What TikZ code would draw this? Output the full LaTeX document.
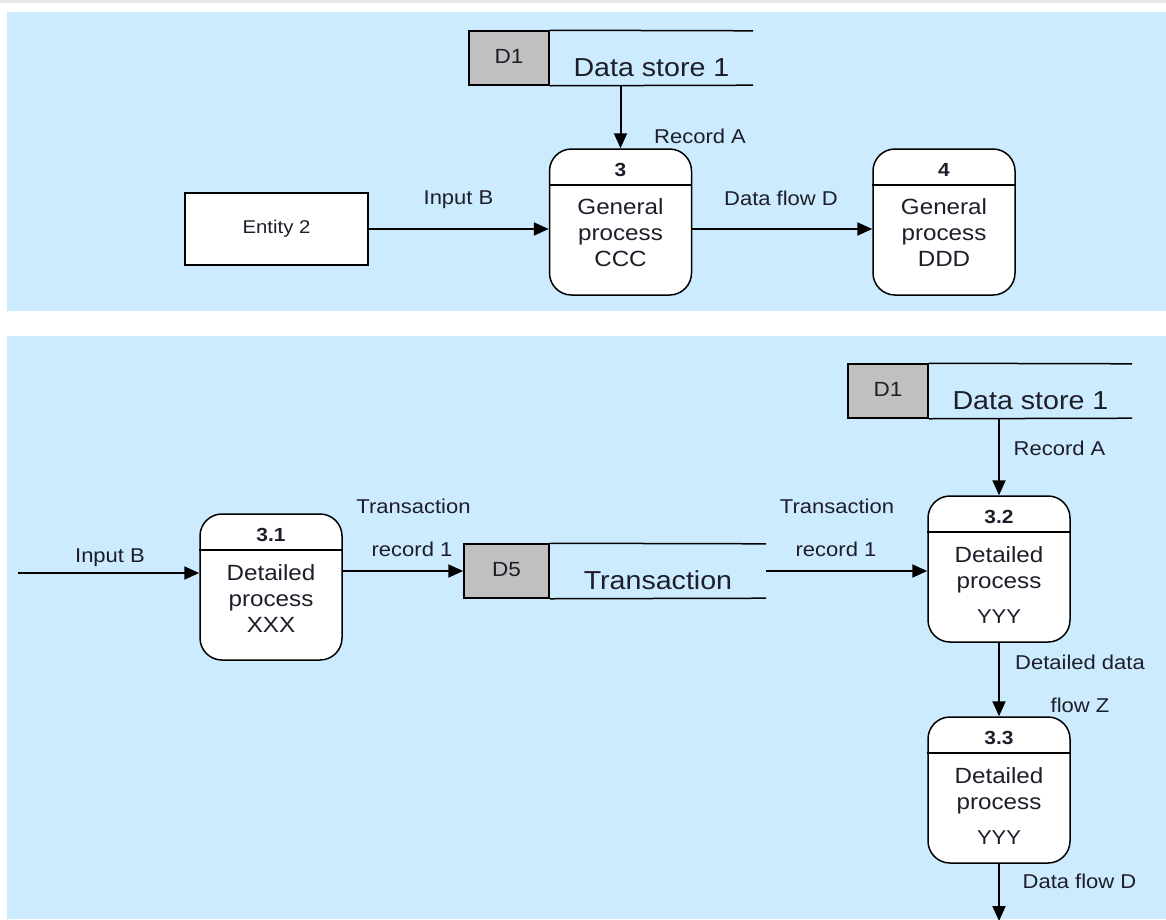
\documentclass[tikz,border=0pt]{standalone}
\usepackage{fontspec}
\setmainfont{Liberation Sans}[FakeStretch=1.1]
\usetikzlibrary{arrows.meta,positioning}
\definecolor{panelblue}{HTML}{CCEBFF}
\definecolor{storegray}{HTML}{C0C0C0}
\definecolor{stripgray}{HTML}{E8E8E8}
\definecolor{ink}{HTML}{1E1E2A}

\tikzset{
    proc/.style={draw, line width=1.5pt, fill=white, rounded corners=22pt,
        minimum width=142pt, minimum height=146pt, inner sep=0pt},
    procnum/.style={anchor=base, inner sep=0pt, text=ink, font=\fontsize{19}{19}\selectfont\bfseries},
    proctext/.style={anchor=base, align=center, inner sep=0pt, text=ink, font=\fontsize{22}{26}\selectfont},
    divider/.style={line width=1.5pt},
    storeid/.style={draw, line width=1.5pt, fill=storegray, minimum height=54pt, inner sep=0pt,
        text height=10pt, text depth=0pt, text=ink, font=\fontsize{20.5}{20.5}\selectfont},
    storebody/.style={minimum height=54pt, inner sep=0pt, text height=36pt, text depth=0pt,
        text=ink, font=\fontsize{26}{26}\selectfont},
    storeline/.style={line width=1.5pt},
    entity/.style={draw, line width=1.5pt, fill=white, minimum width=183pt, minimum height=72pt,
        text=ink, font=\fontsize{18.5}{18.5}\selectfont},
    lbl/.style={anchor=base, inner sep=0pt, text=ink, font=\fontsize{20}{20}\selectfont},
    flow/.style={-{Triangle[length=15pt,width=13pt]}, line width=2pt},
}

\begin{document}
\begin{tikzpicture}[x=1pt, y=-1pt]
    \useasboundingbox (0,0) rectangle (1166,919);
    % the two panels
    \fill[stripgray] (0,0) rectangle (1166,3);
    \fill[panelblue] (7,12) rectangle (1166,311);
    \fill[panelblue] (7,336) rectangle (1166,919);

    % ---- top panel ----
    % data store D1
    \node[storeid, minimum width=80pt] (d1top) at (509,58) {D1};
    \node[storebody, minimum width=203pt, right=0pt of d1top] (ds1top) {Data store 1};
    \draw[storeline] (d1top.north east) -- (ds1top.north east);
    \draw[storeline] (d1top.south east) -- (ds1top.south east);

    % the entity
    \node[entity] (ent2) at (276.5,229) {Entity 2};

    % process 3
    \node[proc] (p3) at (620.5,222) {};
    \node[procnum] (p3num) at ([yshift=-28pt]p3.north) {3};
    \draw[divider] ([yshift=-36.5pt]p3.north west) -- ([yshift=-36.5pt]p3.north east);
    \node[proctext] (p3txt) at ([yshift=-118pt]p3.north) {General\\process\\CCC};

    % process 4
    \node[proc] (p4) at (944,222) {};
    \node[procnum] (p4num) at ([yshift=-28pt]p4.north) {4};
    \draw[divider] ([yshift=-36.5pt]p4.north west) -- ([yshift=-36.5pt]p4.north east);
    \node[proctext] (p4txt) at ([yshift=-118pt]p4.north) {General\\process\\DDD};

    % the flows
    \draw[flow] (ds1top.south -| p3.north) -- (p3.north);
    \node[lbl] (recAtop) at (700,143) {Record A};
    \draw[flow] (ent2.east) -- (ent2.east -| p3.west);
    \node[lbl] (inBtop) at (458.5,204) {Input B};
    \draw[flow] (ent2.east -| p3.east) -- (ent2.east -| p4.west);
    \node[lbl] (dfDtop) at (781,205) {Data flow D};

    % ---- bottom panel ----
    % data store D1
    \node[storeid, minimum width=80pt] (d1bot) at (888,391) {D1};
    \node[storebody, minimum width=203pt, right=0pt of d1bot] (ds1bot) {Data store 1};
    \draw[storeline] (d1bot.north east) -- (ds1bot.north east);
    \draw[storeline] (d1bot.south east) -- (ds1bot.south east);

    % data store D5
    \node[storeid, minimum width=85pt] (d5) at (506.5,571) {D5};
    \node[storebody, minimum width=216pt, right=0pt of d5] (ds5) {Transaction};
    \draw[storeline] (d5.north east) -- (ds5.north east);
    \draw[storeline] (d5.south east) -- (ds5.south east);

    % process 3.1
    \node[proc] (p31) at (271,587) {};
    \node[procnum] (p31num) at ([yshift=-28pt]p31.north) {3.1};
    \draw[divider] ([yshift=-36.5pt]p31.north west) -- ([yshift=-36.5pt]p31.north east);
    \node[proctext] (p31txt) at ([yshift=-119pt]p31.north) {Detailed\\process\\XXX};

    % process 3.2
    \node[proc] (p32) at (999,569) {};
    \node[procnum] (p32num) at ([yshift=-28pt]p32.north) {3.2};
    \draw[divider] ([yshift=-36.5pt]p32.north west) -- ([yshift=-36.5pt]p32.north east);
    \node[proctext] (p32txt) at ([yshift=-128pt]p32.north) {Detailed\\process\\[9pt]{\fontsize{20}{20}\selectfont YYY}};

    % process 3.3
    \node[proc] (p33) at (999,790) {};
    \node[procnum] (p33num) at ([yshift=-28pt]p33.north) {3.3};
    \draw[divider] ([yshift=-36.5pt]p33.north west) -- ([yshift=-36.5pt]p33.north east);
    \node[proctext] (p33txt) at ([yshift=-128pt]p33.north) {Detailed\\process\\[9pt]{\fontsize{20}{20}\selectfont YYY}};

    % the flows
    \coordinate (inB) at (18,573);
    \coordinate (out) at (999,921);
    \draw[flow] (inB) -- (inB -| p31.west);
    \node[lbl] (inBbot) at (110,562) {Input B};
    \draw[flow] (d5.west -| p31.east) -- (d5.west);
    \node[lbl] (trL) at (413.5,513) {Transaction};
    \node[lbl] (recL) at (412,556) {record 1};
    \draw[flow] (ds5.east) -- (ds5.east -| p32.west);
    \node[lbl] (trR) at (837,513) {Transaction};
    \node[lbl] (recR) at (836,556) {record 1};
    \draw[flow] (ds1bot.south -| p32.north) -- (p32.north);
    \node[lbl] (recAbot) at (1059.5,455) {Record A};
    \draw[flow] (p32.south) -- (p33.north);
    \node[lbl] (ddata) at (1080,669) {Detailed data};
    \node[lbl] (flowZ) at (1080,712) {flow Z};
    \draw[flow] (p33.south) -- (out);
    \node[lbl] (dfDbot) at (1079.5,888) {Data flow D};
\end{tikzpicture}
\end{document}
